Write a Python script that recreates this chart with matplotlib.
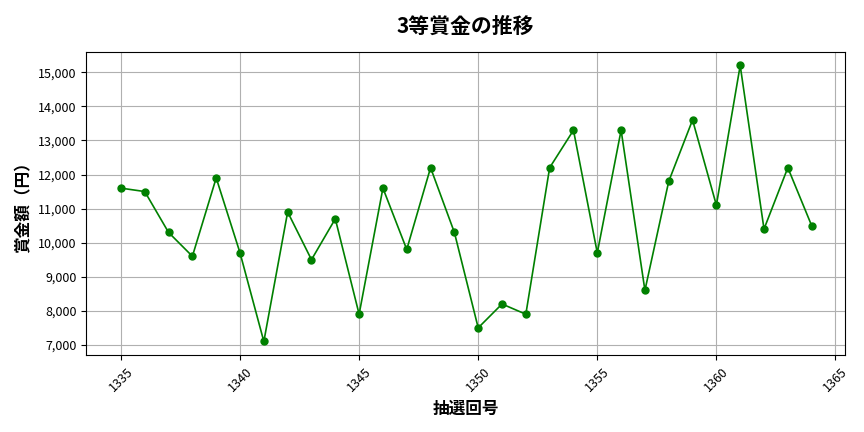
import matplotlib
matplotlib.use("Agg")
import matplotlib.pyplot as plt
from matplotlib.ticker import FuncFormatter

plt.rcParams['font.family'] = ['Noto Sans CJK JP', 'DejaVu Sans']

draws = list(range(1335, 1365))
prizes = [11600, 11500, 10300, 9600, 11900, 9700, 7100, 10900, 9500, 10700,
          7900, 11600, 9800, 12200, 10300, 7500, 8200, 7900, 12200, 13300,
          9700, 13300, 8600, 11800, 13600, 11100, 15200, 10400, 12200, 10500]

fig, ax = plt.subplots(figsize=(8.64, 4.32), dpi=100)
ax.plot(draws, prizes, color='green', marker='o', markersize=5, linewidth=1.2)
ax.set_title('3等賞金の推移', fontsize=15, fontweight='bold', pad=14)
ax.set_xlabel('抽選回号', fontsize=12, fontweight='bold')
ax.set_ylabel('賞金額（円）', fontsize=12, fontweight='bold')
ax.yaxis.set_major_formatter(FuncFormatter(lambda v, p: f'{int(v):,}'))
ax.set_xticks([1335, 1340, 1345, 1350, 1355, 1360, 1365])
ax.set_yticks(range(7000, 15001, 1000))
plt.setp(ax.get_xticklabels(), rotation=45)
ax.tick_params(labelsize=9)
ax.grid(True, color='#b0b0b0', linewidth=0.8)
ax.set_xlim(1333.55, 1365.4)
ax.set_ylim(6700, 15600)
fig.subplots_adjust(left=0.1, right=0.978, top=0.88, bottom=0.178)
fig.savefig('out.png', dpi=100)
